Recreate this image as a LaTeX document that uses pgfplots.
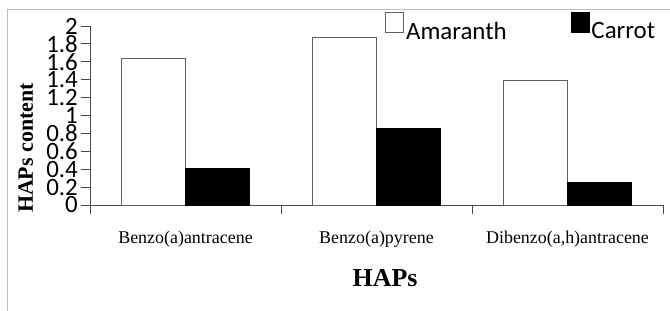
\documentclass[border=0pt]{standalone}
\usepackage{pgfplots}
\pgfplotsset{compat=1.18}
\usepackage{fontspec}
\setmainfont{Liberation Serif}
\newfontfamily\calibri{Carlito}
\definecolor{axgray}{HTML}{4A4A4A}
\definecolor{bargray}{HTML}{606060}
\definecolor{framegray}{HTML}{BBBBBB}
\begin{document}
\begin{tikzpicture}
\useasboundingbox (-90bp,-106bp) rectangle (580bp,205bp);
\draw[framegray, line width=1bp] (-82bp,-110bp) -- (-82bp,195bp) -- (590bp,195bp);
\begin{axis}[
  scale only axis,
  width=573bp, height=179bp,
  at={(0,0)}, anchor=south west,
  xmin=-0.5, xmax=2.5,
  ymin=0, ymax=2,
  ytick distance=0.2,
  axis lines*=left,
  axis line style={axgray, line width=0.9bp},
  every tick/.style={axgray, line width=0.9bp},
  tick align=outside,
  major tick length=9bp,
  xtick={-0.5,0.5,1.5,2.5},
  xticklabels={},
  extra x ticks={0,1,2},
  extra x tick labels={{Benzo(a)antracene}, {Benzo(a)pyrene}, {Dibenzo(a,h)antracene}},
  extra x tick style={major tick length=0pt, tick style={draw=none},
    ticklabel style={font=\fontsize{18}{18}\selectfont, yshift=-23bp}},
  yticklabel style={font=\calibri\fontsize{25}{25}\selectfont, inner sep=0pt, xshift=-3bp},
  /pgf/number format/assume math mode=true,
  ylabel={\textbf{HAPs content}},
  ylabel style={font=\fontsize{22}{22}\selectfont, at={(axis description cs:-0.112,0.318)}, anchor=center},
  xlabel={\textbf{HAPs}},
  xlabel style={font=\fontsize{26}{26}\selectfont, at={(axis description cs:0.515,-0.408)}, anchor=center},
  ybar, bar width=0.335, bar shift=0pt,
  legend columns=2,
  legend style={at={(axis description cs:0.515,1.078)}, anchor=north west, draw=none, fill=none, inner sep=0pt,
    font=\calibri\fontsize{25}{25}\selectfont,
    /tikz/every even column/.append style={column sep=62bp}},
  legend image code/.code={\draw[#1, line width=0.8bp] (0bp,-1bp) rectangle (18bp,19bp);},
]
\addplot[fill=white, draw=bargray, line width=1bp] coordinates {(-0.1675,1.64) (0.8325,1.87) (1.8325,1.39)};
\addplot[fill=black, draw=black, line width=1bp] coordinates {(0.1675,0.41) (1.1675,0.86) (2.1675,0.25)};
\legend{Amaranth, Carrot}
\end{axis}
\end{tikzpicture}
\end{document}
